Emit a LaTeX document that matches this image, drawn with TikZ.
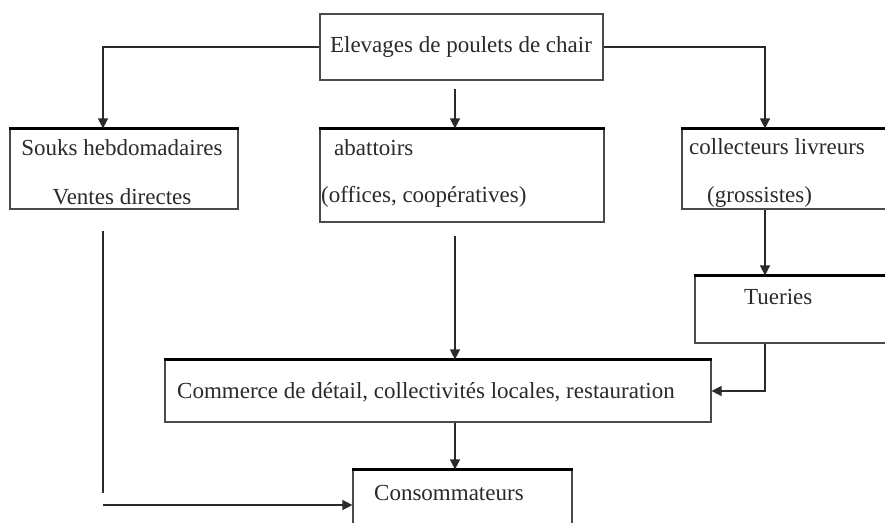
\documentclass[tikz,border=0pt]{standalone}
\usepackage{fontspec}
\setmainfont{Liberation Serif}
\usetikzlibrary{arrows.meta,calc}
\definecolor{ink}{HTML}{2A2A2A}
\begin{document}
\begin{tikzpicture}[x=1pt,y=-1pt,
  box/.style={draw=ink!85,line width=1.2pt,inner sep=0pt,fill=white,
    append after command={(\tikzlastnode.north west) edge[-,line width=3.2pt,draw=black,shorten <=-0.6pt,shorten >=-0.6pt] (\tikzlastnode.north east)}},
  topbox/.style={draw=ink!85,line width=1.2pt,inner sep=0pt,fill=white},
  lbl/.style={inner sep=0pt,text=ink,font=\fontsize{23}{26}\selectfont},
  arr/.style={draw=ink,line width=1.4pt,-{Triangle[width=10pt,length=10pt]}},
  ln/.style={draw=ink,line width=1.4pt}]
\useasboundingbox (0,0) rectangle (885,522);
\clip (0,0) rectangle (885,522);
\fill[white] (0,0) rectangle (885,522);
% boxes
\node[topbox,minimum width=283pt,minimum height=66pt] (top) at (461.5,47) {};
\node[box,minimum width=228pt,minimum height=80pt] (souks) at (124,169) {};
\node[box,minimum width=284pt,minimum height=93pt] (abat) at (462,175.5) {};
\node[box,minimum width=218pt,minimum height=80pt] (coll) at (791,169) {};
\node[box,minimum width=205pt,minimum height=67pt] (tue) at (797.5,309.5) {};
\node[box,minimum width=546pt,minimum height=62pt] (comm) at (438,391) {};
\node[box,minimum width=219pt,minimum height=70pt] (cons) at (462.5,505) {};
% texts
\node[lbl] (t1) at (461,47) {Elevages de poulets de chair};
\node[lbl] (t2) at (122,148) {Souks hebdomadaires};
\node[lbl] (t3) at (122,197) {Ventes directes};
\node[lbl,anchor=west] (t4) at (334,148) {abattoirs};
\node[lbl,anchor=west] (t5) at (321,197) {(offices, coopératives)};
\node[lbl,anchor=west] (t6) at (689,147) {collecteurs livreurs};
\node[lbl,anchor=west] (t7) at (707,197) {(grossistes)};
\node[lbl,anchor=west] (t8) at (744,297) {Tueries};
\node[lbl,anchor=west] (t9) at (177,392) {Commerce de détail, collectivités locales, restauration};
\node[lbl,anchor=west] (t10) at (374,493) {Consommateurs};
% connectors
\draw[arr] (top.west) -| ([xshift=-21pt]souks.north);
\draw[arr] (top.east) -| ([xshift=-26pt]coll.north);
\coordinate (m1) at ($(top.south)+(-6.5,8)$);
\draw[arr] (m1) -- (m1 |- abat.north);
\draw[arr] ([xshift=-26pt]coll.south) -- ([xshift=-26pt]coll.south |- tue.north);
\coordinate (m2) at ($(abat.south)+(-7,13)$);
\draw[arr] (m2) -- (m2 |- comm.north);
\draw[arr] ([xshift=-32.5pt]tue.south) |- (comm.east);
\draw[arr] ([xshift=17pt]comm.south) -- ([xshift=17pt]comm.south |- cons.north);
\coordinate (l0) at ($(souks.south)+(-21,21)$);
\coordinate (l1) at (l0 |- 0,493);
\coordinate (l2) at (l0 |- cons.west);
\draw[ln] (l0) -- (l1);
\draw[arr] (l2) -- (cons.west);
\end{tikzpicture}
\end{document}
